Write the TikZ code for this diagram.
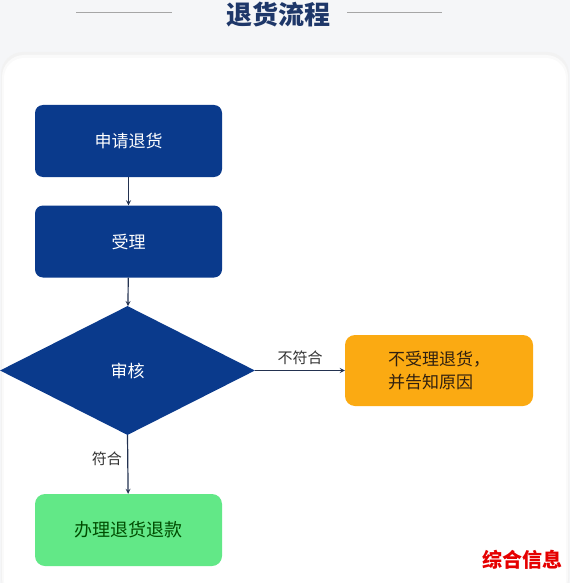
\documentclass[tikz,border=0pt]{standalone}
\usepackage{fontspec}
\setmainfont{Noto Sans CJK SC}
\usetikzlibrary{shapes}
\definecolor{rf_blue}{RGB}{10, 58, 140}
\definecolor{rf_title}{RGB}{30, 55, 105}
\definecolor{rf_orange}{RGB}{251, 170, 18}
\definecolor{rf_green}{RGB}{98, 232, 135}
\definecolor{rf_line}{RGB}{35, 50, 80}
\definecolor{rf_bg}{RGB}{245, 246, 248}
\tikzstyle{bn}=[rectangle,rounded corners=8pt,fill=rf_blue,text=white,
  inner sep=0pt,minimum width=187pt,minimum height=72pt,font=\fontsize{17}{20}\selectfont]
\tikzstyle{dn}=[diamond,fill=rf_blue,text=white,inner sep=0pt,
  minimum width=255pt,minimum height=129pt,font=\fontsize{17}{20}\selectfont]
\tikzstyle{on}=[rectangle,rounded corners=10pt,fill=rf_orange,text=black!75!brown,
  inner sep=0pt,minimum width=188pt,minimum height=71pt,align=left,
  font=\fontsize{17}{23}\selectfont]
\tikzstyle{gn}=[rectangle,rounded corners=10pt,fill=rf_green,text=black!70!green,
  inner sep=0pt,minimum width=187pt,minimum height=72pt,font=\fontsize{18}{20}\selectfont]
\tikzstyle{arr}=[->,>=stealth,draw=rf_line,line width=1.2pt]
\tikzstyle{lbl}=[text=black!80,font=\fontsize{15}{18}\selectfont]

\begin{document}
\begin{tikzpicture}[x=1pt,y=-1pt]
    \useasboundingbox (0,0) rectangle (570,583);
    \clip (0,0) rectangle (570,583);
    % background and card
    \fill[rf_bg] (0,0) rectangle (570,583);
    \fill[black!5,rounded corners=22pt] (1,52) rectangle (569,600);
    \fill[black!2,rounded corners=22pt] (2,55) rectangle (568,600);
    \fill[white,rounded corners=20pt] (4,58) rectangle (566,600);
    % title
    \node[text=rf_title,font=\fontsize{26}{28}\selectfont\bfseries] (t) at (278,15) {退货流程};
    \coordinate (tl1) at (76,12);
    \coordinate (tl2) at (172,12);
    \coordinate (tr1) at (347,12);
    \coordinate (tr2) at (442,12);
    \draw[black!35,line width=0.8pt] (tl1) to (tl2);
    \draw[black!35,line width=0.8pt] (tr1) to (tr2);
    % nodes
    \node [style=bn] (1) at (128.5,141) {申请退货};
    \node [style=bn] (2) at (128.5,241.5) {受理};
    \node [style=dn] (3) at (127.5,370.5) {审核};
    \node [style=on] (4) at (439,370.5) {不受理退货，\\并告知原因};
    \node [style=gn] (5) at (128.5,530) {办理退货退款};
    % edges
    \draw [style=arr] (1) to (2);
    \draw [style=arr] (2) to (3);
    \draw [style=arr] (3.east) to node[lbl,above=2pt] {不符合} (4);
    \draw [style=arr] (3.south) to node[lbl,left=2pt,pos=0.4] {符合} (5);
    % watermark
    \node[text=red!90!black,font=\fontsize{20}{22}\selectfont\bfseries] (w) at (522,560) {综合信息};
\end{tikzpicture}
\end{document}
